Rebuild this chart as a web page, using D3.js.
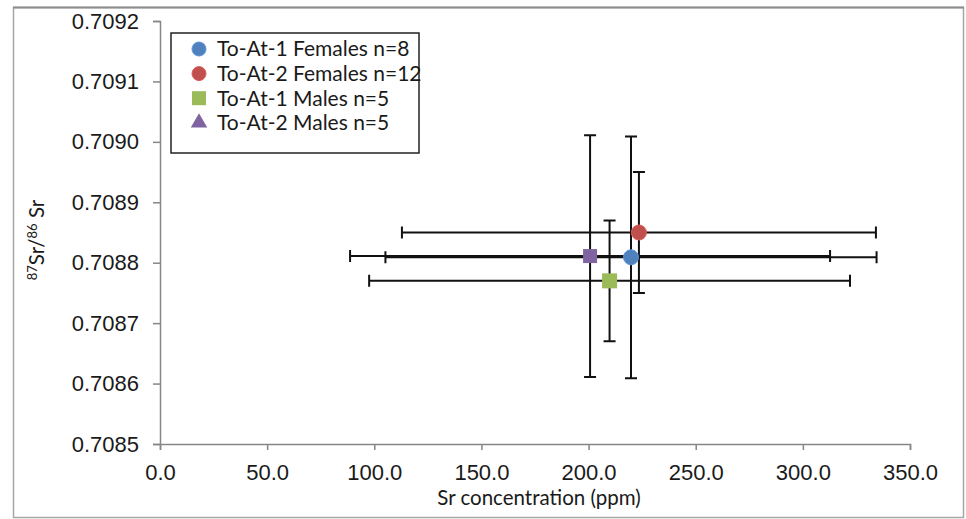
<!DOCTYPE html>
<html>
<head>
<meta charset="utf-8">
<script src="https://cdn.jsdelivr.net/npm/d3@7"></script>
<style>
  body { margin: 0; background: #fff; }
  svg { display: block; font-family: Lato, "Open Sans", sans-serif; }
</style>
</head>
<body>
<div id="chart"></div>
<script>
// series
const seriesNames = ['To-At-1 Females n=8', 'To-At-2 Females n=12', 'To-At-1 Males n=5', 'To-At-2 Males n=5'];
const srConc = [219.8, 223.5, 209.8, 200.7];
const srConcErr = [114.6, 110.6, 112.2, 112.0];
const srRatio = [0.708809, 0.70885, 0.70877, 0.708811];
const srRatioErr = [0.00020, 0.00010, 0.00010, 0.00020];
const xTicks = [0, 50, 100, 150, 200, 250, 300, 350];
const yTicks = [0.7085, 0.7086, 0.7087, 0.7088, 0.7089, 0.7090, 0.7091, 0.7092];

const colors = ['#4F81BD', '#C0504D', '#9BBB59', '#8064A2'];
const plotShape = ['circle', 'circle', 'square', 'square'];
const legendShape = ['circle', 'circle', 'square', 'triangle'];

const W = 966, H = 519;
const margin = { top: 21, right: 56, bottom: 75, left: 160 };

const svg = d3.select('#chart').append('svg')
  .attr('width', W)
  .attr('height', H);

// outer frame
svg.append('rect')
  .attr('x', 13.5).attr('y', 7.5)
  .attr('width', 950).attr('height', 510)
  .attr('fill', '#fff')
  .attr('stroke', '#a6a6a6')
  .attr('stroke-width', 1.5);
svg.append('line')
  .attr('x1', 13).attr('x2', 964).attr('y1', 7.5).attr('y2', 7.5)
  .attr('stroke', '#8c8c8c').attr('stroke-width', 2);

const x = d3.scaleLinear().domain([0, 350]).range([margin.left, W - margin.right]);
const y = d3.scaleLinear().domain([0.7085, 0.7092]).range([H - margin.bottom, margin.top]);

// axes
const xAxis = svg.append('g')
  .attr('transform', `translate(0,${y(0.7085)})`)
  .call(d3.axisBottom(x).tickValues(xTicks).tickFormat(d3.format('.1f')).tickSize(6).tickPadding(14));

const yAxis = svg.append('g')
  .attr('transform', `translate(${x(0)},0)`)
  .call(d3.axisLeft(y).tickValues(yTicks).tickFormat(d3.format('.4f')).tickSize(7).tickPadding(14));

[xAxis, yAxis].forEach(g => {
  g.select('.domain').attr('stroke', '#868686').attr('stroke-width', 1.5);
  g.selectAll('.tick line').attr('stroke', '#868686').attr('stroke-width', 1.5);
  g.selectAll('.tick text').attr('fill', '#1a1a1a').style('font-size', '22px');
});

// axis titles
svg.append('text')
  .attr('x', (x(0) + x(350)) / 2 + 4)
  .attr('y', 505)
  .attr('text-anchor', 'middle')
  .attr('fill', '#1a1a1a')
  .style('font-size', '20.5px')
  .text('Sr concentration (ppm)');

const yTitle = svg.append('text')
  .attr('transform', 'translate(44,240) rotate(-90)')
  .attr('text-anchor', 'middle')
  .attr('fill', '#1a1a1a')
  .style('font-size', '20.5px');
yTitle.append('tspan').attr('dy', -7).style('font-size', '13px').text('87');
yTitle.append('tspan').attr('dy', 7).text('Sr/');
yTitle.append('tspan').attr('dy', -7).style('font-size', '13px').text('86');
yTitle.append('tspan').attr('dy', 7).text(' Sr');

// error bars
const data = seriesNames.map((name, i) => ({
  name, i,
  cx: srConc[i], ex: srConcErr[i],
  cy: srRatio[i], ey: srRatioErr[i]
}));

const cap = 6;
const bars = svg.append('g')
  .attr('stroke', '#111')
  .attr('stroke-width', 2)
  .attr('fill', 'none');

data.forEach(d => {
  const x0 = x(d.cx - d.ex), x1 = x(d.cx + d.ex), yc = y(d.cy);
  const y0 = y(d.cy + d.ey), y1 = y(d.cy - d.ey), xc = x(d.cx);
  bars.append('path')
    .attr('d', `M${x0},${yc}H${x1}M${x0},${yc - cap}V${yc + cap}M${x1},${yc - cap}V${yc + cap}`);
  bars.append('path')
    .attr('d', `M${xc},${y0}V${y1}M${xc - cap},${y0}H${xc + cap}M${xc - cap},${y1}H${xc + cap}`);
});

// markers
function marker(g, shape, color, size) {
  if (shape === 'circle') {
    g.append('circle').attr('r', size / 2).attr('fill', color)
      .attr('stroke', d3.color(color).brighter(0.4)).attr('stroke-width', 1);
  } else if (shape === 'square') {
    g.append('rect').attr('x', -size / 2).attr('y', -size / 2)
      .attr('width', size).attr('height', size).attr('fill', color);
  } else {
    g.append('path').attr('d', d3.symbol(d3.symbolTriangle, size * size * 0.6)).attr('fill', color);
  }
}

svg.append('g').selectAll('g')
  .data(data)
  .join('g')
  .attr('transform', d => `translate(${x(d.cx)},${y(d.cy)})`)
  .each(function (d) {
    marker(d3.select(this), plotShape[d.i], colors[d.i], d.i === 3 ? 14 : 15);
  });

// legend
const legend = svg.append('g').attr('transform', 'translate(171,33)');
legend.append('rect')
  .attr('width', 248).attr('height', 120)
  .attr('fill', '#fff')
  .attr('stroke', '#222')
  .attr('stroke-width', 1.5);

seriesNames.forEach((name, i) => {
  const row = legend.append('g').attr('transform', `translate(28,${16 + i * 24.6})`);
  marker(row, legendShape[i], colors[i], 14);
  row.append('text')
    .attr('x', 18)
    .attr('dy', '0.35em')
    .attr('fill', '#1a1a1a')
    .style('font-size', '21px')
    .text(name);
});
</script>
</body>
</html>
